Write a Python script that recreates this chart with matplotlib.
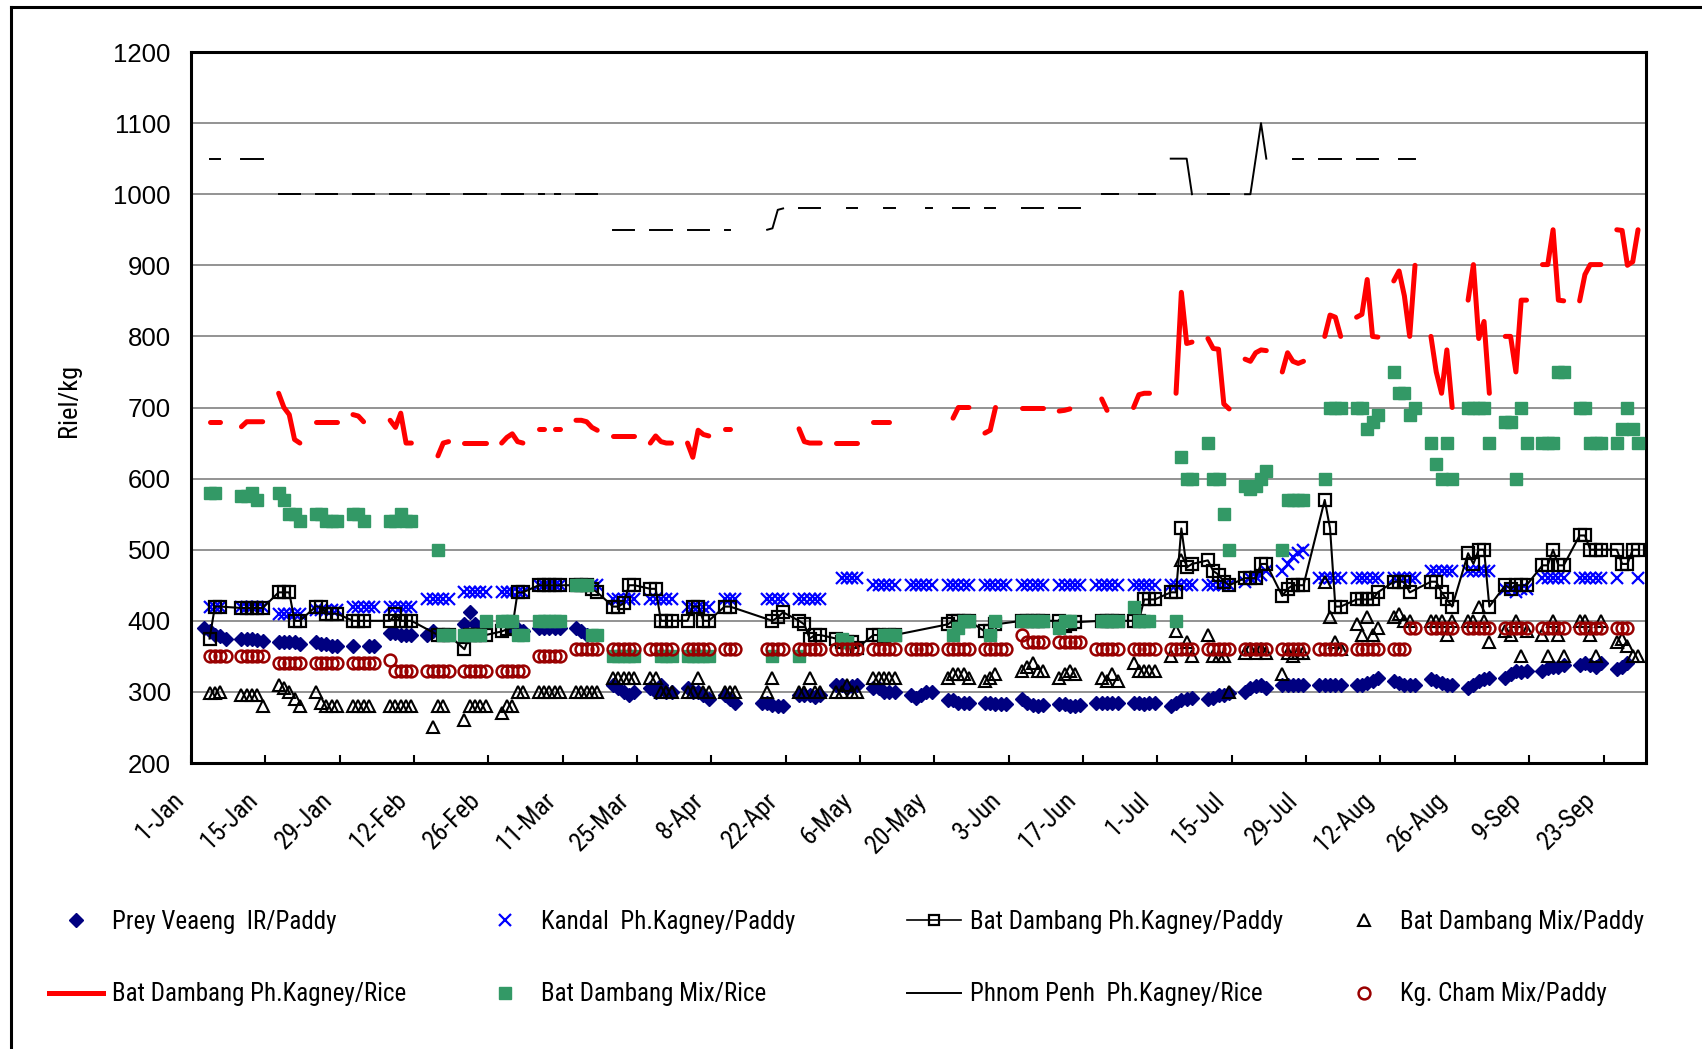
import matplotlib
matplotlib.use("Agg")
import matplotlib.pyplot as plt
from matplotlib.lines import Line2D
from matplotlib import font_manager as fm
from matplotlib.transforms import ScaledTranslation

# Runs of quotes: (first day counted from 1-Jan = 0, values on consecutive days).
# None marks a day without a quote.
prey_veaeng = [
    (2, [390, 385, 380, 378, 375]), (9, [375, 375, 375, 373, 372]),
    (16, [370, 370, 370, 370, 368]), (23, [370, 368, 367, 365, 365]),
    (30, [365, None, None, 365, 365]), (37, [383, 383, 380, 380, 380]),
    (44, [380, 385]), (51, [395, 412, 395]), (60, [390, 388, 385]),
    (65, [390, 390, 390, 390, 390]), (72, [390, 385, 380]),
    (79, [310, 305, 300, 295, 300]), (86, [305, 300, 310, 300, 300]),
    (93, [305, 300, 300, 295, 290]), (100, [295, 290, 285]),
    (107, [285, 285, 282, 280, 280]), (114, [295, 295, 295, 293, 295]),
    (121, [310, 310, 305, 308, 310]), (128, [305, 305, 300, 300, 300]),
    (135, [295, 292, 295, 300, 300]), (142, [288, 288, 285, 285, 285]),
    (149, [285, 285, 283, 283, 283]), (156, [290, 285, 282, 280, 282]),
    (163, [283, 283, 280, 280, 282]), (170, [285, 285, 285, 285, 285]),
    (177, [285, 285, 283, 285, 285]), (184, [280, 285, 288, 290, 292]),
    (191, [290, 292, 295, 295, 298]), (198, [300, 305, 308, 310, 305]),
    (205, [310, 310, 310, 310, 310]), (212, [310, 310, 310, 310, 310]),
    (219, [310, 310, 312, 315, 320]), (226, [315, 312, 310, 310, 310]),
    (233, [318, 315, 312, 310, 310]), (240, [305, 310, 315, 318, 320]),
    (247, [320, 325, 330, 328, 330]), (254, [330, 333, 335, 335, 338]),
    (261, [338, 340, 338, 335, 340]), (268, [332, 335, 340]),
]

kandal = [
    (3, [420, 420, 420]), (9, [420, 420, 420, 420, 420]),
    (16, [410, 410, 410, 410, 410]), (23, [415, 415, 415, 415, 415]),
    (30, [420, 420, 420, 420, 420]), (37, [420, 420, 420, 420, 420]),
    (44, [430, 430, 430, 430, 430]), (51, [440, 440, 440, 440, 440]),
    (58, [440, 440, 440, 440, 440]), (65, [450, 450, 450, 450, 450]),
    (72, [450, 450, 450, 450, 450]), (79, [430, 430, 430, 430, 430]),
    (86, [430, 430, 430, 430, 430]), (93, [420, 420, 420, 420, 420]),
    (100, [430, 430, 430]), (108, [430, 430, 430, 430]),
    (114, [430, 430, 430, 430, 430]), (122, [460, 460, 460, 460]),
    (128, [450, 450, 450, 450, 450]), (135, [450, 450, 450, 450, 450]),
    (142, [450, 450, 450, 450, 450]), (149, [450, 450, 450, 450, 450]),
    (156, [450, 450, 450, 450, 450]), (163, [450, 450, 450, 450, 450]),
    (170, [450, 450, 450, 450, 450]), (177, [450, 450, 450, 450, 450]),
    (184, [450, 450, 450, 450, 450]), (191, [450, 450, 450, 450, 450]),
    (198, [455, 460, 462, 465, 470]), (205, [470, 480, 490, 495, 500]),
    (212, [460, 460, 460, 460, 460]), (219, [460, 460, 460, 460, 460]),
    (226, [460, 460, 460, 460, 460]), (233, [470, 470, 470, 470, 470]),
    (240, [470, 470, 470, 470, 470]), (247, [445, 445, 440, 445, 445]),
    (254, [460, 460, 460, 460, 460]), (261, [460, 460, 460, 460, 460]),
    (268, [460, None, None, None, 460]),
]

bd_kagney_paddy = [
    (3, [375, 420, 420]), (9, [418, 418, 418, 418, 418]),
    (16, [440, 440, 440, 400, 400]), (23, [420, 420, 410, 410, 410]),
    (30, [400, 400, 400]), (37, [400, 410, 400, 400, 400]),
    (46, [380, 380, 380]), (51, [360, 380, 380, 380, 380]),
    (58, [385, 388, 390, 440, 440]), (65, [450, 450, 450, 450, 450]),
    (72, [450, 450, 450, 445, 440]), (79, [420, 420, 425, 450, 450]),
    (86, [445, 445, 400, 400, 400]), (93, [400, 420, 420, 400, 400]),
    (100, [420, 420]), (109, [400, 405, 412]),
    (114, [400, 395, 375, 380, 380]), (121, [375, 370, 370, 370, 362]),
    (128, [380, 380, 378, 380, 380]), (142, [395, 400, 400, 400, 400]),
    (149, [385, 385, 395]), (156, [400, 400, 400, 400, 400]),
    (163, [400, 393, 395, 398]), (171, [400, 400, 400, 400]),
    (177, [400, 400, 430, 430, 430]), (184, [440, 440, 530, 475, 480]),
    (191, [485, 470, 465, 455, 450]), (198, [460, 460, 460, 480, 480]),
    (205, [435, 445, 450, 450, 450]), (213, [570, 530, 420, 420]),
    (219, [430, 430, 430, 430, 440]), (226, [455, 455, 455, 440]),
    (233, [455, 455, 440, 430, 420]), (240, [495, 480, 500, 500, 420]),
    (247, [450, 445, 450, 450, 450]), (254, [478, 478, 500, 478, 478]),
    (261, [520, 520, 500, 500, 500]), (268, [500, 480, 480, 500, 500]),
]

bd_mix_paddy = [
    (3, [298, 298, 300]), (9, [295, 295, 295, 295, 280]),
    (16, [310, 305, 300, 290, 280]), (23, [300, 285, 280, 280, 280]),
    (30, [280, 280, 280, 280]), (37, [280, 280, 280, 280, 280]),
    (45, [250, 280, 280]), (51, [260, 280, 280, 280, 280]),
    (58, [270, 280, 280, 300, 300]), (65, [300, 300, 300, 300, 300]),
    (72, [300, 300, 300, 300, 300]), (79, [320, 320, 320, 320, 320]),
    (86, [320, 320, 300, 300, 300]), (93, [300, 300, 320, 300, 300]),
    (100, [300, 300, 300]), (108, [300, 320]),
    (114, [300, 300, 320, 300, 300]), (121, [300, 300, 310, 300, 300]),
    (128, [320, 320, 320, 320, 320]), (142, [320, 325, 325, 325, 320]),
    (149, [315, 320, 325]), (156, [330, 335, 340, 330, 330]),
    (163, [320, 325, 330, 325]), (171, [320, 315, 325, 315]),
    (177, [340, 330, 330, 330, 330]), (184, [350, 385, 485, 370, 350]),
    (191, [380, 350, 350, 350, 300]), (198, [355, 360, 355, 360, 355]),
    (205, [325, 355, 350, 355, 355]), (213, [455, 405, 370, 360]),
    (219, [395, 380, 405, 380, 390]), (226, [405, 410, 400, 400]),
    (233, [400, 400, 400, 380, 400]), (240, [400, 400, 420, 400, 370]),
    (247, [385, 380, 400, 350, 385]), (254, [380, 350, 400, 380, 350]),
    (261, [400, 400, 380, 350, 400]), (268, [370, 375, 365, 350, 350]),
]

bd_kagney_rice = [
    (3, [680, 680, 680]), (9, [673, 680, 680, 680, 680]),
    (16, [720, 700, 690, 655, 650]), (23, [680, 680, 680, 680, 680]),
    (30, [690, 688, 680]), (37, [682, 672, 692, 650, 650]),
    (46, [632, 650, 652]), (51, [650, 650, 650, 650, 650]),
    (58, [650, 658, 663, 652, 650]), (65, [670, 670]), (68, [670, 670]),
    (72, [682, 682, 680, 672, 668]), (79, [660, 660, 660, 660, 660]),
    (86, [650, 660, 652, 650, 650]), (93, [650, 630, 668, 662, 660]),
    (100, [670, 670]), (114, [670, 652, 650, 650, 650]),
    (121, [650, 650, 650, 650, 650]), (128, [680, 680, 680, 680]),
    (143, [685, 700, 700, 700]), (149, [664, 668, 700]),
    (156, [700, 700, 700, 700, 700]), (163, [695, 696, 698]),
    (171, [712, 696]), (177, [700, 718, 720, 720]),
    (185, [720, 862, 790, 792]), (191, [797, 783, 782, 705, 698]),
    (198, [768, 765, 777, 781, 780]), (205, [750, 777, 765, 762, 765]),
    (213, [800, 830, 827, 800]), (219, [827, 831, 880, 800, 799]),
    (226, [878, 892, 857, 800, 900]), (233, [800, 750, 720, 781, 700]),
    (240, [851, 901, 797, 821, 720]), (247, [800, 800, 750, 851, 851]),
    (254, [901, 901, 950, 851, 850]), (261, [850, 887, 901, 901, 901]),
    (268, [950, 949, 900, 905, 950]),
]

bd_mix_rice = [
    (3, [580, 580]), (9, [575, 575, 580, 570]),
    (16, [580, 570, 550, 550, 540]), (23, [550, 550, 540, 540, 540]),
    (30, [550, 550, 540]), (37, [540, 540, 550, 540, 540]),
    (46, [500, 380, 380]), (51, [380, 380, 380, 380, 400]),
    (58, [400, 400, 400, 380, 380]), (65, [400, 400, 400, 400, 400]),
    (72, [450, 450, 450, 380, 380]), (79, [350, 350, 350, 350, 350]),
    (88, [350, 350, 350]), (93, [350, 350, 350, 350, 350]),
    (109, [350]), (114, [350]), (122, [375, 370]), (130, [380, 380, 380]),
    (143, [380, 390, 400, 400]), (150, [380, 400]),
    (156, [400, 400, 400, 400, 400]), (163, [390, 400, 400]),
    (171, [400, 400, 400, 400]), (177, [420, 400, 400, 400]),
    (185, [400, 630, 600, 600]), (191, [650, 600, 600, 550, 500]),
    (198, [590, 585, 590, 600, 610]), (205, [500, 570, 570, 570, 570]),
    (213, [600, 700, 700, 700]), (219, [700, 700, 670, 680, 690]),
    (226, [750, 720, 720, 690, 700]), (233, [650, 620, 600, 650, 600]),
    (240, [700, 700, 700, 700, 650]), (247, [680, 680, 600, 700, 650]),
    (254, [650, 650, 650, 750, 750]), (261, [700, 700, 650, 650, 650]),
    (268, [650, 670, 700, 670, 650]),
]

phnom_penh_rice = [
    (3, [1050, 1050, 1050]), (9, [1050, 1050, 1050, 1050, 1050]),
    (16, [1000, 1000, 1000, 1000, 1000]), (23, [1000, 1000, 1000, 1000, 1000]),
    (30, [1000, 1000, 1000, 1000, 1000]), (37, [1000, 1000, 1000, 1000, 1000]),
    (44, [1000, 1000, 1000, 1000, 1000]), (51, [1000, 1000, 1000, 1000, 1000]),
    (58, [1000, 1000, 1000, 1000, 1000]), (65, [1000, 1000]), (68, [1000, 1000]),
    (72, [1000, 1000, 1000, 1000, 1000]), (79, [950, 950, 950, 950, 950]),
    (86, [950, 950, 950, 950, 950]), (93, [950, 950, 950, 950, 950]),
    (100, [950, 950]), (108, [950, 952, 978, 980]),
    (114, [980, 980, 980, 980, 980]), (123, [980, 980, 980]),
    (130, [980, 980, 980]), (138, [980, 980]), (143, [980, 980, 980, 980]),
    (149, [980, 980, 980]), (156, [980, 980, 980, 980, 980]),
    (163, [980, 980, 980, 980, 980]), (171, [1000, 1000, 1000, 1000]),
    (178, [1000, 1000, 1000, 1000]), (184, [1050, 1050, 1050, 1050, 1000]),
    (191, [1000, 1000, 1000, 1000, 1000]), (198, [1000, 1000, 1050, 1100, 1050]),
    (207, [1050, 1050, 1050]), (212, [1050, 1050, 1050, 1050, 1050]),
    (219, [1050, 1050, 1050, 1050, 1050]), (227, [1050, 1050, 1050, 1050]),
]

kg_cham = [
    (3, [350, 350, 350, 350]), (9, [350, 350, 350, 350, 350]),
    (16, [340, 340, 340, 340, 340]), (23, [340, 340, 340, 340, 340]),
    (30, [340, 340, 340, 340, 340]), (37, [345, 330, 330, 330, 330]),
    (44, [330, 330, 330, 330, 330]), (51, [330, 330, 330, 330, 330]),
    (58, [330, 330, 330, 330, 330]), (65, [350, 350, 350, 350, 350]),
    (72, [360, 360, 360, 360, 360]), (79, [360, 360, 360, 360, 360]),
    (86, [360, 360, 360, 360, 360]), (93, [360, 360, 360, 360, 360]),
    (100, [360, 360, 360]), (108, [360, 360, 360, 360]),
    (114, [360, 360, 360, 360, 360]), (121, [360, 360, 360, 360, 360]),
    (128, [360, 360, 360, 360, 360]), (135, [360, 360, 360, 360, 360]),
    (142, [360, 360, 360, 360, 360]), (149, [360, 360, 360, 360, 360]),
    (156, [380, 370, 370, 370, 370]), (163, [370, 370, 370, 370, 370]),
    (170, [360, 360, 360, 360, 360]), (177, [360, 360, 360, 360, 360]),
    (184, [360, 360, 360, 360, 360]), (191, [360, 360, 360, 360, 360]),
    (198, [360, 360, 360, 360, 360]), (205, [360, 360, 360, 360, 360]),
    (212, [360, 360, 360, 360, 360]), (219, [360, 360, 360, 360, 360]),
    (226, [360, 360, 360, 390, 390]), (233, [390, 390, 390, 390, 390]),
    (240, [390, 390, 390, 390, 390]), (247, [390, 390, 390, 390, 390]),
    (254, [390, 390, 390, 390, 390]), (261, [390, 390, 390, 390, 390]),
    (268, [390, 390, 390]),
]

tick_days = [0, 14, 28, 42, 56, 70, 84, 98, 112, 126, 140, 154, 168, 182,
             196, 210, 224, 238, 252, 266]
tick_labels = ["1-Jan", "15-Jan", "29-Jan", "12-Feb", "26-Feb", "11-Mar",
               "25-Mar", "8-Apr", "22-Apr", "6-May", "20-May", "3-Jun",
               "17-Jun", "1-Jul", "15-Jul", "29-Jul", "12-Aug", "26-Aug",
               "9-Sep", "23-Sep"]
y_ticks = [200, 300, 400, 500, 600, 700, 800, 900, 1000, 1100, 1200]


def run_points(start, vals):
    # each day sits in the middle of its one-day slot
    xs = [start + i + 0.5 for i, v in enumerate(vals) if v is not None]
    ys = [v for v in vals if v is not None]
    return xs, ys


def all_points(runs):
    xs, ys = [], []
    for start, vals in runs:
        rx, ry = run_points(start, vals)
        xs += rx; ys += ry
    return xs, ys


def narrow_font(size):
    # pick a narrow face if one is installed, else shrink the regular one
    fonts = fm.fontManager.ttflist
    names = {f.name for f in fonts}
    for n in ["Liberation Sans Narrow", "Arial Narrow", "Roboto Condensed",
              "Open Sans Condensed"]:
        if n in names:
            return fm.FontProperties(family=n, size=size)
    for n in ["Liberation Sans", "Roboto", "Open Sans", "Noto Sans", "DejaVu Sans"]:
        for f in fonts:
            if f.name == n and f.style == "normal" and f.weight in ("normal", 400) \
                    and f.stretch in ("condensed", "semi-condensed", 300):
                return fm.FontProperties(family=n, stretch=f.stretch, size=size)
    return fm.FontProperties(family="Liberation Sans", size=size * 0.84)


plt.rcParams["font.family"] = ["Liberation Sans", "DejaVu Sans"]

W, H = 1702, 1049
fig = plt.figure(figsize=(W / 100, H / 100), dpi=100)
ax = fig.add_axes([191 / W, 1 - 763 / H, (1646 - 191) / W, (763 - 52) / H])

ms = 8.5
styles = {
    "prey": dict(marker="D", color="#000080", ms=7, ls="none", mec="#000080"),
    "kandal": dict(marker="x", color="#0000FF", ms=8, mew=1.6, ls="none"),
    "bdkp": dict(marker="s", color="black", mfc="none", ms=ms, mew=1.6, lw=1.5),
    "bdmp": dict(marker="^", color="black", mfc="none", ms=ms, mew=1.5, ls="none"),
    "bdkr": dict(color="#FF0000", lw=3.6, solid_capstyle="round"),
    "bdmr": dict(marker="s", color="#339966", mec="#339966", ms=ms, ls="none"),
    "pp": dict(color="black", lw=1.4),
    "kg": dict(marker="o", color="#990000", mfc="none", ms=ms, mew=1.8, ls="none"),
}

x, y = all_points(prey_veaeng)
ax.plot(x, y, zorder=3, **styles["prey"])
x, y = all_points(kandal)
ax.plot(x, y, zorder=4, **styles["kandal"])
x, y = all_points(bd_kagney_paddy)
ax.plot(x, y, zorder=5, **styles["bdkp"])
x, y = all_points(bd_mix_paddy)
ax.plot(x, y, zorder=6, **styles["bdmp"])
for start, vals in bd_kagney_rice:
    x, y = run_points(start, vals)
    ax.plot(x, y, zorder=7, **styles["bdkr"])
x, y = all_points(bd_mix_rice)
ax.plot(x, y, zorder=8, **styles["bdmr"])
for start, vals in phnom_penh_rice:
    x, y = run_points(start, vals)
    ax.plot(x, y, zorder=9, **styles["pp"])
x, y = all_points(kg_cham)
ax.plot(x, y, zorder=10, **styles["kg"])

ax.set_xlim(0, 274)
ax.set_ylim(200, 1200)
ax.set_yticks(y_ticks)
ax.set_xticks(tick_days)
ax.set_xticklabels([])
# date labels written as text so they can sit down-left of their ticks
date_font = narrow_font(18.5)
lab_tr = ax.get_xaxis_transform() + ScaledTranslation(-20 / 100, -25 / 100,
                                                       fig.dpi_scale_trans)
for d, lab in zip(tick_days, tick_labels):
    ax.text(d, 0, lab, transform=lab_tr, rotation=45, ha="right", va="top",
            rotation_mode="anchor", fontproperties=date_font, clip_on=False)
ax.tick_params(axis="x", direction="in", length=6, width=1.5)
ax.tick_params(axis="y", length=0, pad=14.5, labelsize=18.5)
ax.yaxis.grid(True, color="#808080", lw=1.2)
ax.set_axisbelow(True)
for s in ax.spines.values():
    s.set_linewidth(2.2)
ax.set_ylabel("Riel/kg", fontproperties=narrow_font(19))
ax.yaxis.set_label_coords(-0.0757, 0.51)

# legend: four columns of two rows each
labels = ["Prey Veaeng  IR/Paddy", "Kandal  Ph.Kagney/Paddy",
          "Bat Dambang Ph.Kagney/Paddy", "Bat Dambang Mix/Paddy",
          "Bat Dambang Ph.Kagney/Rice", "Bat Dambang Mix/Rice",
          "Phnom Penh  Ph.Kagney/Rice", "Kg. Cham Mix/Paddy"]
keys = ["prey", "kandal", "bdkp", "bdmp", "bdkr", "bdmr", "pp", "kg"]
handles = []
for k in keys:
    st = dict(styles[k])
    st.pop("solid_capstyle", None)
    if k == "bdkp":
        st["ms"] = 7; st["lw"] = 1.2
    handles.append(Line2D([], [], **st))

leg_font = narrow_font(18)
fpx = leg_font.get_size_in_points() * 100 / 72
col_x = [49, 478, 907, 1337]
for c in range(4):
    fig.legend([handles[c], handles[c + 4]], [labels[c], labels[c + 4]],
               loc="center left", bbox_to_anchor=(col_x[c] / W, 1 - 958 / H),
               frameon=False, borderpad=0, borderaxespad=0,
               handlelength=54 / fpx, handletextpad=9 / fpx,
               labelspacing=(73 - 0.98 * fpx) / fpx, prop=leg_font)

# chart-area border (left and top edges are inside the picture)
fig.add_artist(Line2D([11 / W, 11 / W], [0, 1 - 7 / H], color="black", lw=2.2,
                      transform=fig.transFigure))
fig.add_artist(Line2D([11 / W, 1], [1 - 7 / H, 1 - 7 / H], color="black", lw=2.2,
                      transform=fig.transFigure))

fig.savefig("out.png", dpi=100)
